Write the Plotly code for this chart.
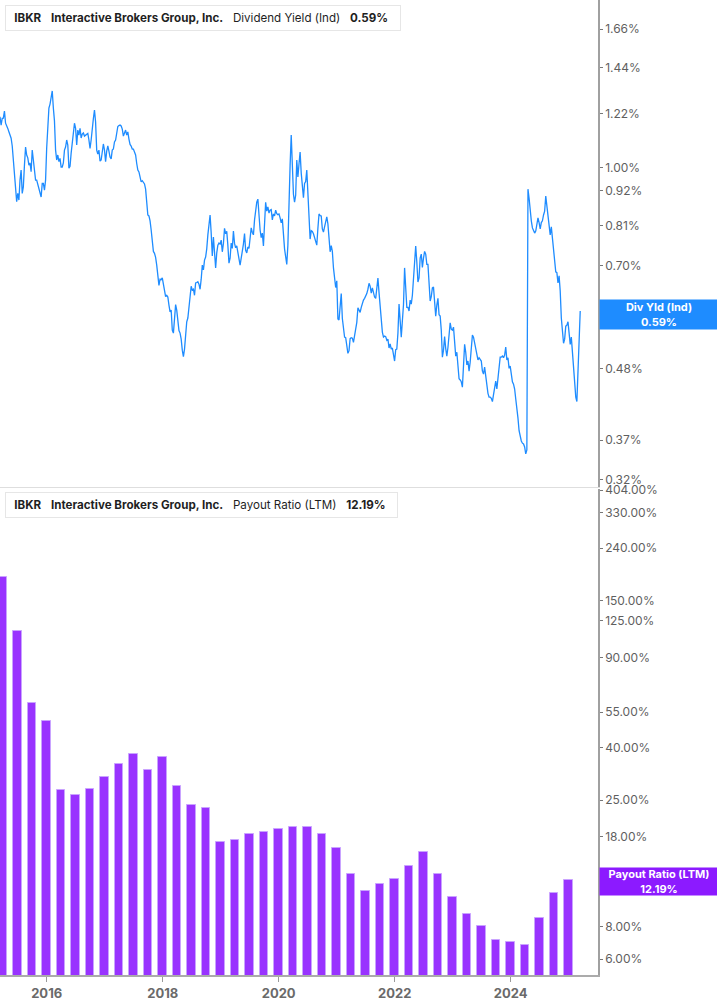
import math
import pandas as pd
import plotly.graph_objects as go

# weekly dividend yield (%)
div_yield = [
    1.169, 1.205, 1.169, 1.198, 1.199, 1.230, 1.177, 1.161, 1.155, 1.141,
    1.123, 1.114, 1.083, 1.029, 0.981, 0.956, 0.884, 0.911, 0.889, 0.956,
    0.992, 0.911, 0.933, 1.010, 1.079, 1.048, 1.037, 1.010, 1.018, 0.986,
    1.067, 1.029, 0.986, 0.956, 0.956, 0.942, 0.935, 0.912, 0.899, 0.945,
    0.945, 0.922, 0.956, 1.075, 1.191, 1.244, 1.262, 1.295, 1.324, 1.244,
    1.187, 1.067, 1.029, 1.048, 1.023, 1.035, 1.003, 1.003, 1.018, 1.067,
    1.079, 1.107, 1.087, 0.999, 1.006, 1.055, 1.095, 1.140, 1.177, 1.156,
    1.087, 1.148, 1.127, 1.155, 1.115, 1.131, 1.136, 1.123, 1.127, 1.127,
    1.134, 1.107, 1.074, 1.107, 1.174, 1.197, 1.235, 1.182, 1.067, 1.052,
    1.067, 1.025, 1.029, 1.052, 1.091, 1.067, 1.023, 1.063, 1.083, 1.063,
    1.040, 1.033, 1.067, 1.071, 1.099, 1.107, 1.148, 1.163, 1.167, 1.169,
    1.165, 1.152, 1.123, 1.133, 1.148, 1.127, 1.140, 1.111, 1.089, 1.083,
    1.071, 1.071, 1.057, 1.048, 1.016, 0.992, 0.985, 0.970, 0.950, 0.954,
    0.949, 0.943, 0.925, 0.876, 0.842, 0.839, 0.824, 0.797, 0.757, 0.737,
    0.732, 0.721, 0.701, 0.671, 0.651, 0.666, 0.665, 0.669, 0.654, 0.638,
    0.625, 0.628, 0.624, 0.606, 0.591, 0.595, 0.553, 0.547, 0.576, 0.607,
    0.595, 0.568, 0.552, 0.547, 0.535, 0.514, 0.502, 0.516, 0.549, 0.570,
    0.578, 0.603, 0.615, 0.649, 0.640, 0.642, 0.628, 0.657, 0.658, 0.660,
    0.654, 0.642, 0.666, 0.701, 0.689, 0.714, 0.722, 0.744, 0.783, 0.806,
    0.842, 0.788, 0.725, 0.777, 0.736, 0.694, 0.733, 0.754, 0.760, 0.757,
    0.768, 0.736, 0.759, 0.802, 0.786, 0.793, 0.754, 0.706, 0.719, 0.760,
    0.745, 0.794, 0.759, 0.747, 0.752, 0.736, 0.714, 0.701, 0.719, 0.734,
    0.757, 0.787, 0.740, 0.733, 0.749, 0.745, 0.786, 0.803, 0.790, 0.783,
    0.827, 0.859, 0.882, 0.892, 0.824, 0.797, 0.775, 0.788, 0.752, 0.821,
    0.882, 0.854, 0.867, 0.848, 0.857, 0.859, 0.827, 0.845, 0.839, 0.857,
    0.846, 0.843, 0.845, 0.833, 0.818, 0.830, 0.774, 0.744, 0.723, 0.703,
    0.754, 0.905, 1.010, 1.127, 1.010, 0.908, 0.882, 0.905, 1.029, 0.967,
    1.014, 1.059, 0.981, 0.924, 0.897, 0.945, 0.951, 0.992, 0.908, 0.803,
    0.771, 0.795, 0.793, 0.786, 0.774, 0.765, 0.754, 0.802, 0.845, 0.840,
    0.839, 0.800, 0.791, 0.806, 0.819, 0.836, 0.815, 0.769, 0.736, 0.753,
    0.737, 0.694, 0.659, 0.646, 0.662, 0.576, 0.574, 0.597, 0.632, 0.577,
    0.553, 0.539, 0.538, 0.525, 0.508, 0.513, 0.536, 0.538, 0.537, 0.529,
    0.541, 0.559, 0.569, 0.600, 0.595, 0.590, 0.601, 0.612, 0.617, 0.621,
    0.625, 0.632, 0.642, 0.656, 0.649, 0.633, 0.645, 0.634, 0.624, 0.621,
    0.640, 0.669, 0.634, 0.599, 0.565, 0.549, 0.539, 0.541, 0.540, 0.533,
    0.535, 0.518, 0.526, 0.516, 0.518, 0.500, 0.494, 0.515, 0.516, 0.547,
    0.608, 0.573, 0.539, 0.572, 0.606, 0.694, 0.640, 0.601, 0.601, 0.593,
    0.617, 0.608, 0.628, 0.666, 0.717, 0.752, 0.709, 0.659, 0.669, 0.719,
    0.730, 0.695, 0.719, 0.737, 0.730, 0.703, 0.703, 0.666, 0.615, 0.625,
    0.645, 0.647, 0.601, 0.582, 0.606, 0.621, 0.585, 0.582, 0.553, 0.501,
    0.514, 0.540, 0.517, 0.503, 0.519, 0.545, 0.568, 0.555, 0.553, 0.559,
    0.521, 0.503, 0.510, 0.483, 0.463, 0.461, 0.458, 0.449, 0.483, 0.525,
    0.510, 0.487, 0.494, 0.476, 0.492, 0.512, 0.543, 0.539, 0.527, 0.514,
    0.503, 0.496, 0.500, 0.496, 0.494, 0.476, 0.471, 0.483, 0.469, 0.449,
    0.439, 0.433, 0.433, 0.431, 0.426, 0.437, 0.446, 0.459, 0.446, 0.466,
    0.473, 0.501, 0.501, 0.503, 0.500, 0.505, 0.520, 0.496, 0.500, 0.481,
    0.485, 0.471, 0.458, 0.454, 0.446, 0.430, 0.418, 0.401, 0.383, 0.373,
    0.369, 0.366, 0.365, 0.361, 0.352, 0.357, 0.925, 0.895, 0.851, 0.824,
    0.803, 0.797, 0.788, 0.794, 0.815, 0.833, 0.819, 0.800, 0.819, 0.824,
    0.842, 0.854, 0.902, 0.873, 0.848, 0.809, 0.783, 0.806, 0.768, 0.736,
    0.717, 0.684, 0.682, 0.657, 0.674, 0.638, 0.578, 0.545, 0.527, 0.535,
    0.561, 0.563, 0.570, 0.547, 0.525, 0.539, 0.508, 0.474, 0.449, 0.433,
    0.426, 0.481, 0.520, 0.593,
]
yield_dates = pd.date_range("2015-03-06", periods=len(div_yield), freq="7D")

# quarterly payout ratio (LTM, %)
quarters = [
    "2015-03-31", "2015-06-30", "2015-09-30", "2015-12-31",
    "2016-03-31", "2016-06-30", "2016-09-30", "2016-12-31",
    "2017-03-31", "2017-06-30", "2017-09-30", "2017-12-31",
    "2018-03-31", "2018-06-30", "2018-09-30", "2018-12-31",
    "2019-03-31", "2019-06-30", "2019-09-30", "2019-12-31",
    "2020-03-31", "2020-06-30", "2020-09-30", "2020-12-31",
    "2021-03-31", "2021-06-30", "2021-09-30", "2021-12-31",
    "2022-03-31", "2022-06-30", "2022-09-30", "2022-12-31",
    "2023-03-31", "2023-06-30", "2023-09-30", "2023-12-31",
    "2024-03-31", "2024-06-30", "2024-09-30", "2024-12-31",
]
payout = [
    184.5, 114.0, 59.5, 50.7, 27.3, 26.1, 27.7, 30.7, 34.5, 37.8,
    32.7, 36.7, 28.4, 24.0, 23.3, 17.1, 17.4, 18.4, 18.7, 19.2,
    19.6, 19.6, 18.4, 16.3, 12.9, 11.0, 11.8, 12.3, 13.8, 15.7,
    12.9, 10.5, 8.98, 8.04, 7.11, 6.99, 6.82, 8.64, 10.9, 12.19,
]

yield_ticks = [0.32, 0.37, 0.48, 0.59, 0.70, 0.81, 0.92, 1.00, 1.22, 1.44, 1.66]
payout_ticks = [6, 8, 18, 25, 40, 55, 90, 125, 150, 240, 330, 404]

BLUE = "#1E8CFF"
PURPLE = "#9933FF"
PURPLE_DARK = "#8C1AFF"
FONT = "Inter"

# figure geometry (px) used to place legend boxes in paper coords
W, H = 717, 1005
PL, PR, PT, PB = 0, 119, 0, 30
PW, PH = W - PL - PR, H - PT - PB


def px(x):
    return x / PW


def py(y):
    return 1 - y / PH


fig = go.Figure()

fig.add_trace(go.Scatter(
    x=yield_dates, y=div_yield, mode="lines",
    line=dict(color=BLUE, width=1.3),
    xaxis="x2", yaxis="y2", hoverinfo="skip", showlegend=False,
))

fig.add_trace(go.Bar(
    x=pd.to_datetime(quarters), y=payout,
    width=53 * 86400000,
    marker=dict(color=PURPLE, line=dict(color="#C9A3FF", width=1)),
    xaxis="x", yaxis="y", hoverinfo="skip", showlegend=False,
))

xrange = ["2015-03-13", "2025-07-04"]
axis_font = dict(family=FONT, size=12, color="#5f5f5f")

fig.update_layout(
    width=W, height=H,
    margin=dict(l=PL, r=PR, t=PT, b=PB, autoexpand=False),
    paper_bgcolor="white", plot_bgcolor="white",
    font=dict(family=FONT),
    bargap=0,
    xaxis=dict(
        domain=[0, 1], range=xrange, type="date", anchor="y", automargin=False,
        showgrid=False, zeroline=False,
        showline=True, linecolor="#ababab", linewidth=2,
        ticks="outside", ticklen=5, tickcolor="#9a9a9a",
        tick0="2016-01-01", dtick="M24", tickformat="%Y",
        tickfont=dict(family=FONT, size=13, color="#6a6a6a", weight="bold"),
    ),
    xaxis2=dict(
        domain=[0, 1], range=xrange, type="date", anchor="y2", matches="x",
        automargin=False,
        showgrid=False, zeroline=False, showticklabels=False,
        showline=True, linecolor="#dedede", linewidth=1, ticks="",
    ),
    yaxis=dict(
        domain=[0, 1 - 489 / PH], type="log", side="right", anchor="x",
        automargin=False, range=[0.7158, 2.6105],
        tickvals=payout_ticks, ticktext=[f"{v:.2f}%" for v in payout_ticks],
        showgrid=False, zeroline=False,
        showline=True, linecolor="#a0a0a0", linewidth=1.5,
        ticks="outside", ticklen=3, tickcolor="#777",
        tickfont=axis_font,
    ),
    yaxis2=dict(
        domain=[1 - 487 / PH, 1], type="log", side="right", anchor="x2",
        automargin=False, range=[-0.5060, 0.2661],
        tickvals=yield_ticks, ticktext=[f"{v:.2f}%" for v in yield_ticks],
        showgrid=False, zeroline=False,
        showline=True, linecolor="#a0a0a0", linewidth=1.5,
        ticks="outside", ticklen=3, tickcolor="#777",
        tickfont=axis_font,
    ),
)

# legend boxes
legend_font = dict(family=FONT, size=11.6, color="#1f1f1f")
sp = "&nbsp;&nbsp;&nbsp;"
fig.add_annotation(
    xref="paper", yref="paper", x=px(5), y=py(5), xanchor="left", yanchor="top",
    text=f"&nbsp;<b>IBKR</b>{sp}<b>Interactive Brokers Group, Inc.</b>{sp}Dividend Yield (Ind){sp}<b>{div_yield[-1]:.2f}%</b>&nbsp;&nbsp;",
    showarrow=False, font=legend_font, align="left",
    bgcolor="white", bordercolor="#e6e6e6", borderwidth=1, borderpad=5,
)
fig.add_annotation(
    xref="paper", yref="paper", x=px(5), y=py(492), xanchor="left", yanchor="top",
    text=f"&nbsp;<b>IBKR</b>{sp}<b>Interactive Brokers Group, Inc.</b>{sp}Payout Ratio (LTM){sp}<b>{payout[-1]:.2f}%</b>&nbsp;&nbsp;",
    showarrow=False, font=legend_font, align="left",
    bgcolor="white", bordercolor="#e6e6e6", borderwidth=1, borderpad=5,
)
fig.add_shape(type="rect", xref="paper", yref="paper",
              x0=px(5), x1=px(8), y0=py(31), y1=py(5),
              fillcolor=BLUE, line=dict(width=0))
fig.add_shape(type="rect", xref="paper", yref="paper",
              x0=px(5), x1=px(8), y0=py(518), y1=py(492),
              fillcolor=PURPLE_DARK, line=dict(width=0))

# last-value tags on the right axis
fig.add_annotation(
    xref="paper", yref="y2", x=1.002, y=math.log10(div_yield[-1]), yshift=-4,
    xanchor="left", yanchor="middle",
    text=f"<b>Div Yld (Ind)<br>{div_yield[-1]:.2f}%</b>",
    showarrow=False, font=dict(family=FONT, size=11, color="white"),
    bgcolor=BLUE, width=114, height=25, borderpad=2, align="center",
)
fig.add_annotation(
    xref="paper", yref="y", x=1.002, y=math.log10(payout[-1]), yshift=-1,
    xanchor="left", yanchor="middle",
    text=f"<b>Payout Ratio (LTM)<br>{payout[-1]:.2f}%</b>",
    showarrow=False, font=dict(family=FONT, size=11, color="white"),
    bgcolor=PURPLE_DARK, width=114, height=23, borderpad=2, align="center",
)

fig.write_html("out.html", config={"displayModeBar": False},
               post_script="document.body.style.margin='0';")
